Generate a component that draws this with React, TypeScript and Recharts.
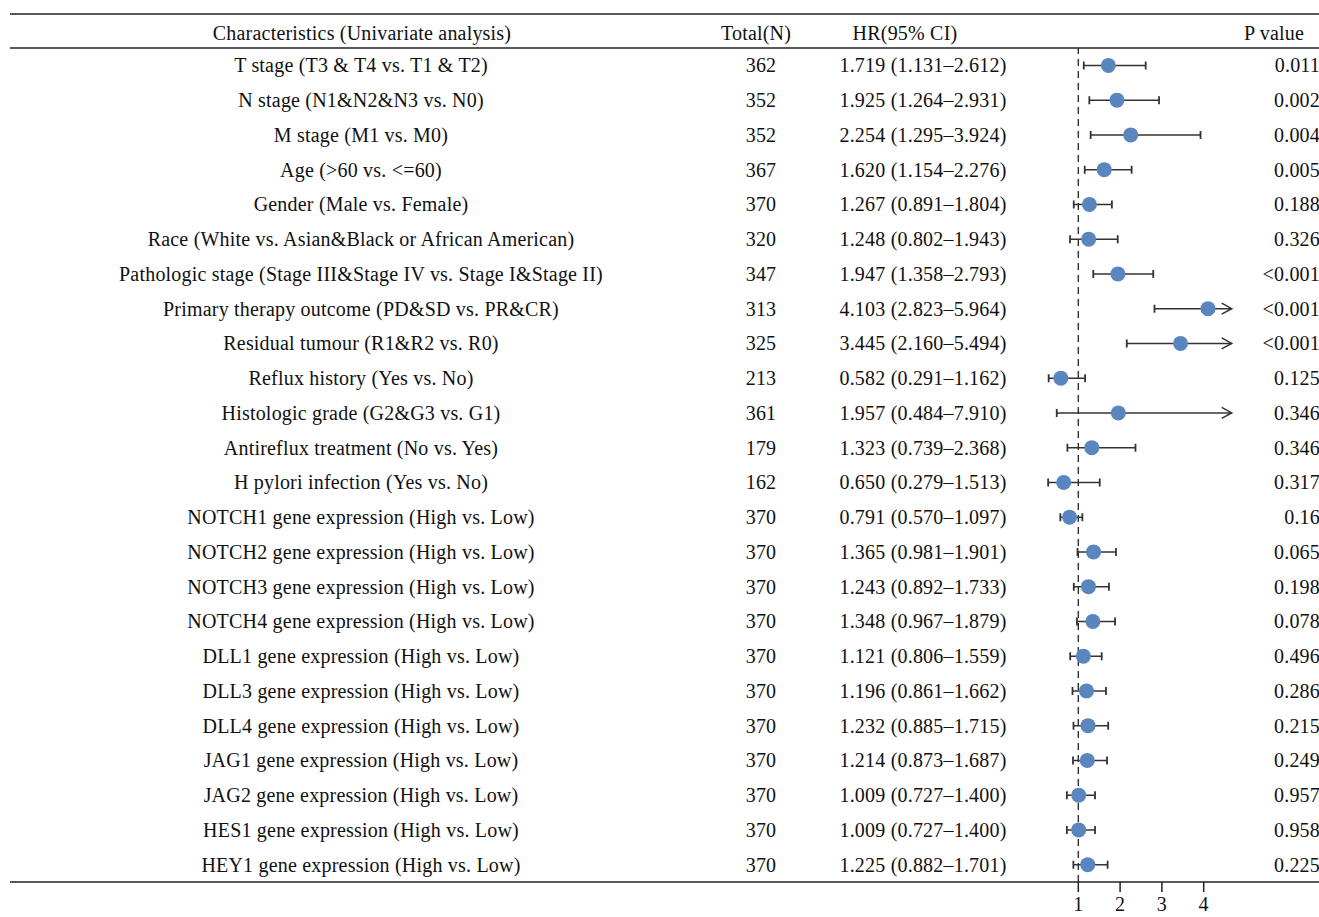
import React from 'react'
import {
  ScatterChart,
  Scatter,
  XAxis,
  YAxis,
  ReferenceLine,
  Customized,
} from 'recharts'

const characteristics = [
  'T stage (T3 & T4 vs. T1 & T2)',
  'N stage (N1&N2&N3 vs. N0)',
  'M stage (M1 vs. M0)',
  'Age (>60 vs. <=60)',
  'Gender (Male vs. Female)',
  'Race (White vs. Asian&Black or African American)',
  'Pathologic stage (Stage III&Stage IV vs. Stage I&Stage II)',
  'Primary therapy outcome (PD&SD vs. PR&CR)',
  'Residual tumour (R1&R2 vs. R0)',
  'Reflux history (Yes vs. No)',
  'Histologic grade (G2&G3 vs. G1)',
  'Antireflux treatment (No vs. Yes)',
  'H pylori infection (Yes vs. No)',
  'NOTCH1 gene expression (High vs. Low)',
  'NOTCH2 gene expression (High vs. Low)',
  'NOTCH3 gene expression (High vs. Low)',
  'NOTCH4 gene expression (High vs. Low)',
  'DLL1 gene expression (High vs. Low)',
  'DLL3 gene expression (High vs. Low)',
  'DLL4 gene expression (High vs. Low)',
  'JAG1 gene expression (High vs. Low)',
  'JAG2 gene expression (High vs. Low)',
  'HES1 gene expression (High vs. Low)',
  'HEY1 gene expression (High vs. Low)',
]

const totals = [362, 352, 352, 367, 370, 320, 347, 313, 325, 213, 361, 179, 162, 370, 370, 370, 370, 370, 370, 370, 370, 370, 370, 370]

const hazardRatios = [1.719, 1.925, 2.254, 1.62, 1.267, 1.248, 1.947, 4.103, 3.445, 0.582, 1.957, 1.323, 0.65, 0.791, 1.365, 1.243, 1.348, 1.121, 1.196, 1.232, 1.214, 1.009, 1.009, 1.225]

const lowerCI = [1.131, 1.264, 1.295, 1.154, 0.891, 0.802, 1.358, 2.823, 2.16, 0.291, 0.484, 0.739, 0.279, 0.57, 0.981, 0.892, 0.967, 0.806, 0.861, 0.885, 0.873, 0.727, 0.727, 0.882]

const upperCI = [2.612, 2.931, 3.924, 2.276, 1.804, 1.943, 2.793, 5.964, 5.494, 1.162, 7.91, 2.368, 1.513, 1.097, 1.901, 1.733, 1.879, 1.559, 1.662, 1.715, 1.687, 1.4, 1.4, 1.701]

const pValues = ['0.011', '0.002', '0.004', '0.005', '0.188', '0.326', '<0.001', '<0.001', '<0.001', '0.125', '0.346', '0.346', '0.317', '0.16', '0.065', '0.198', '0.078', '0.496', '0.286', '0.215', '0.249', '0.957', '0.958', '0.225']

const headers = ['Characteristics (Univariate analysis)', 'Total(N)', 'HR(95% CI)', 'P value']
const xTicks = [1, 2, 3, 4]
const clipAt = 4.67

const rows = characteristics.map((name, i) => ({
  row: i,
  name,
  total: totals[i],
  hr: hazardRatios[i],
  lo: lowerCI[i],
  hi: upperCI[i],
  p: pValues[i],
}))

const font = 'Liberation Serif, Times New Roman, serif'
const textStyle = { fontFamily: font, fontSize: 20, letterSpacing: 0.2, fill: '#111' }
const ink = '#333'
const dotColor = '#5a86bf'

const fmt = (v: number) => v.toFixed(3)

function RowTick(props: any) {
  const { y, payload } = props
  const r = rows[payload.value]
  if (!r) return null
  return (
    <g>
      <text x={361} y={y} dy="0.35em" textAnchor="middle" style={textStyle}>{r.name}</text>
      <text x={761} y={y} dy="0.35em" textAnchor="middle" style={textStyle}>{r.total}</text>
      <text x={923} y={y} dy="0.35em" textAnchor="middle" style={textStyle}>
        {`${fmt(r.hr)} (${fmt(r.lo)}–${fmt(r.hi)})`}
      </text>
      <text x={1320} y={y} dy="0.35em" textAnchor="end" style={textStyle}>{r.p}</text>
    </g>
  )
}

function TableFrame() {
  return (
    <g>
      <line x1={10} x2={1319} y1={14} y2={14} stroke="#222" strokeWidth={1.5} />
      <line x1={10} x2={1319} y1={48} y2={48} stroke="#222" strokeWidth={1.5} />
      <line x1={10} x2={1319} y1={882} y2={882} stroke="#222" strokeWidth={1.5} />
      <text x={362} y={33} dy="0.35em" textAnchor="middle" style={textStyle}>{headers[0]}</text>
      <text x={756} y={33} dy="0.35em" textAnchor="middle" style={textStyle}>{headers[1]}</text>
      <text x={905} y={33} dy="0.35em" textAnchor="middle" style={textStyle}>{headers[2]}</text>
      <text x={1304} y={33} dy="0.35em" textAnchor="end" style={textStyle}>{headers[3]}</text>
    </g>
  )
}

function WhiskerEnd(props: any) {
  const { cx, cy, payload } = props
  if (payload.end === 'arrow') {
    return (
      <path
        d={`M${cx - 10},${cy - 5.5} L${cx},${cy} L${cx - 10},${cy + 5.5}`}
        fill="none"
        stroke={ink}
        strokeWidth={1.5}
      />
    )
  }
  return <line x1={cx} x2={cx} y1={cy - 4} y2={cy + 4} stroke={ink} strokeWidth={1.8} />
}

function Dot(props: any) {
  const { cx, cy } = props
  return <circle cx={cx} cy={cy} r={7.5} fill={dotColor} />
}

export default function App() {
  return (
    <div style={{ position: 'absolute', left: 0, top: 0, background: '#fff' }}>
      <ScatterChart width={1319} height={917} margin={{ top: 48, right: 0, bottom: 0, left: 0 }}>
        <Customized component={<TableFrame />} />
        <XAxis
          type="number"
          dataKey="x"
          domain={[0, 5]}
          ticks={xTicks}
          allowDataOverflow
          axisLine={false}
          tickSize={10}
          tickMargin={5}
          tickLine={{ stroke: '#222', strokeWidth: 1.5 }}
          tick={{ ...textStyle }}
          height={35}
        />
        <YAxis
          type="number"
          dataKey="y"
          domain={[-0.5, 23.5]}
          reversed
          ticks={rows.map((r) => r.row)}
          interval={0}
          axisLine={false}
          tickLine={false}
          tick={<RowTick />}
          width={1036.5}
        />
        <YAxis yAxisId="right" orientation="right" width={73.5} axisLine={false} tickLine={false} tick={false} />
        <ReferenceLine x={1} stroke="#222" strokeWidth={1.3} strokeDasharray="7 5" />
        {rows.map((r) => (
          <Scatter
            key={r.name}
            data={[
              { x: r.lo, y: r.row, end: 'cap' },
              { x: Math.min(r.hi, clipAt), y: r.row, end: r.hi > clipAt ? 'arrow' : 'cap' },
            ]}
            line={{ stroke: ink, strokeWidth: 1.5 }}
            shape={<WhiskerEnd />}
            isAnimationActive={false}
          />
        ))}
        <Scatter
          data={rows.map((r) => ({ x: r.hr, y: r.row }))}
          shape={<Dot />}
          isAnimationActive={false}
        />
      </ScatterChart>
    </div>
  )
}
